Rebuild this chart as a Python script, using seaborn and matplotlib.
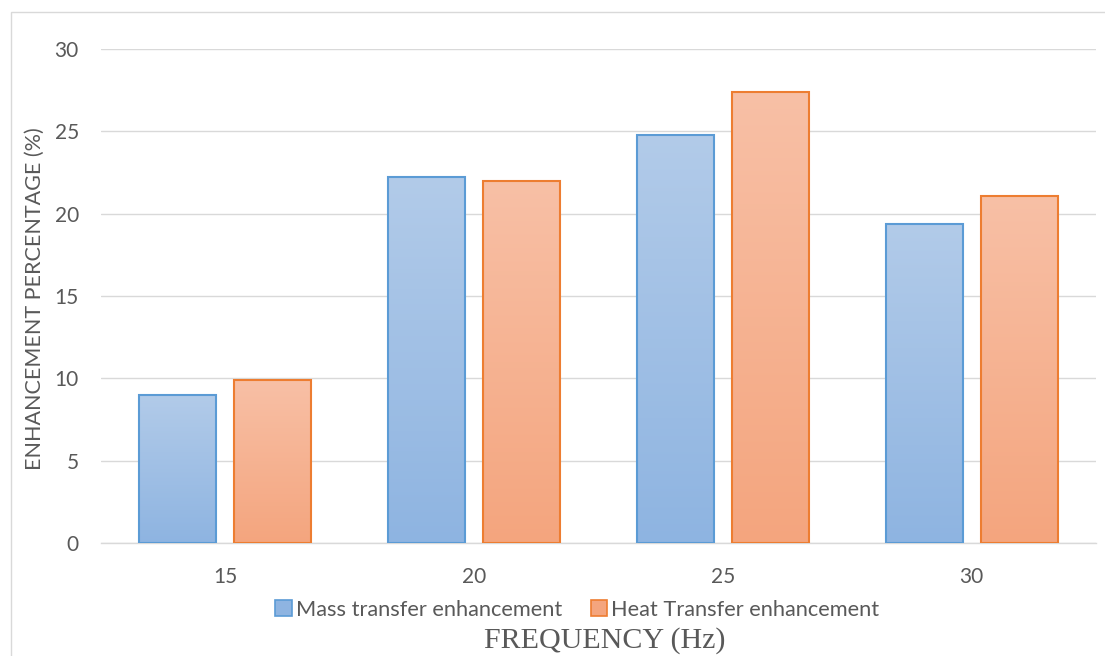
import numpy as np
import pandas as pd
import matplotlib
matplotlib.use("Agg")
import matplotlib.pyplot as plt
from matplotlib.colors import LinearSegmentedColormap
from matplotlib.patches import Patch, Rectangle
import seaborn as sns

# ------------------ DATA ------------------ #
frequencies = ["15", "20", "25", "30"]
mass_transfer = [9.0, 22.2, 24.8, 19.4]
heat_transfer = [9.9, 22.0, 27.4, 21.1]
series_names = ["Mass transfer enhancement", "Heat Transfer enhancement"]

df = pd.DataFrame({
    "Frequency": frequencies * 2,
    "Enhancement": mass_transfer + heat_transfer,
    "Series": [series_names[0]] * 4 + [series_names[1]] * 4,
})

# ------------------ STYLE ------------------ #
sns.set_style("white")
plt.rcParams['font.family'] = ['Lato', 'DejaVu Sans']
text_grey = "#595959"
grid_grey = "#d9d9d9"

edge_colors = {series_names[0]: "#5b9bd5", series_names[1]: "#ed7d31"}
grad_colors = {
    series_names[0]: ("#b2cbe9", "#8eb4e1"),   # top, bottom
    series_names[1]: ("#f8c0a6", "#f4a57e"),
}

fig = plt.figure(figsize=(11.05, 6.56), dpi=100)
ax = fig.add_axes([0.0914, 0.1723, 0.9005, 0.7530])

sns.barplot(data=df, x="Frequency", y="Enhancement", hue="Series",
            order=frequencies, hue_order=series_names,
            palette=edge_colors, width=0.763, gap=0.19,
            errorbar=None, legend=False, ax=ax)

# gradient fill inside each bar
for container, name in zip(ax.containers, series_names):
    top, bottom = grad_colors[name]
    cmap = LinearSegmentedColormap.from_list(name, [bottom, top])
    for bar in container:
        bar.set_facecolor("none")
        bar.set_edgecolor(edge_colors[name])
        bar.set_linewidth(1.5)
        bar.set_zorder(3)
        x0, y0 = bar.get_x(), bar.get_y()
        w, h = bar.get_width(), bar.get_height()
        grad = np.linspace(0, 1, 256).reshape(-1, 1)
        im = ax.imshow(grad, cmap=cmap, origin="lower", aspect="auto",
                       extent=[x0, x0 + w, y0, y0 + h], zorder=2)
        im.set_clip_path(bar)

ax.set_xlim(-0.5, 3.5)
ax.set_ylim(0, 30)
ax.set_yticks(range(0, 31, 5))

ax.yaxis.grid(True, color=grid_grey, linewidth=1)
ax.set_axisbelow(True)
for s in ["top", "right", "left"]:
    ax.spines[s].set_visible(False)
ax.spines["bottom"].set_color(grid_grey)
ax.spines["bottom"].set_linewidth(1)
ax.tick_params(axis="both", length=0, labelsize=15, colors=text_grey)
ax.tick_params(axis="x", pad=17)
ax.tick_params(axis="y", pad=16)

ax.set_ylabel("ENHANCEMENT PERCENTAGE (%)", fontsize=15.5, color=text_grey)
ax.yaxis.set_label_coords(-0.056, 0.495)
ax.set_xlabel("")

# legend below the plot
handles = [Patch(facecolor=grad_colors[n][1], edgecolor=edge_colors[n], linewidth=1.2, label=n)
           for n in series_names]
fig.legend(handles=handles, loc="center", bbox_to_anchor=(0.5226, 0.070), ncol=2,
           frameon=False, fontsize=15.7, labelcolor=text_grey,
           handlelength=0.75, handleheight=0.75, handletextpad=0.2, columnspacing=1.3)

fig.text(0.5475, 0.024, "FREQUENCY (Hz)", ha="center", va="center",
         fontsize=21.6, color=text_grey, family="Liberation Serif")

# outer chart frame
fig.patches.append(Rectangle((11 / 1105, -0.01), 1.1, 1 - 12 / 656 + 0.01,
                             transform=fig.transFigure, fill=False,
                             edgecolor=grid_grey, linewidth=1))

fig.savefig("out.png", dpi=100)
